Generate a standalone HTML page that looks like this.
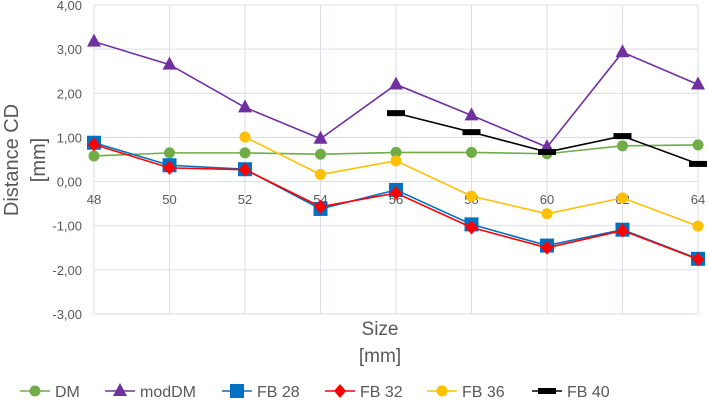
<!DOCTYPE html>
<html><head><meta charset="utf-8"><style>
body{margin:0;background:#fff;font-family:"Liberation Sans",sans-serif}
svg text{font-family:"Liberation Sans",sans-serif}
</style></head><body>
<svg width="708" height="414" id="c"></svg>
<script>
const categories=[48,50,52,54,56,58,60,62,64];
const yTicks=[4,3,2,1,0,-1,-2,-3];
const dm=[0.58,0.65,0.65,0.62,0.66,0.66,0.63,0.81,0.83];
const modDm=[3.17,2.65,1.68,0.97,2.20,1.50,0.78,2.93,2.20];
const fb28=[0.88,0.37,0.28,-0.62,-0.19,-0.97,-1.45,-1.09,-1.75];
const fb32=[0.84,0.31,0.27,-0.57,-0.26,-1.04,-1.50,-1.11,-1.76];
const fb36=[null,null,1.01,0.16,0.47,-0.33,-0.73,-0.37,-1.01];
const fb40=[null,null,null,null,1.55,1.12,0.67,1.03,0.40];
const seriesNames=["DM","modDM","FB 28","FB 32","FB 36","FB 40"];
const NS="http://www.w3.org/2000/svg";
const svg=document.getElementById('c');
const x=i=>94+i*(698-94)/(categories.length-1);
const y=v=>5+(4-v)*(314-5)/7;
function mk(t,a,p){const e=document.createElementNS(NS,t);for(const k in a)e.setAttribute(k,a[k]);(p||svg).appendChild(e);return e;}
const grid=mk('g',{});


yTicks.forEach(v=>{mk('line',{x1:94,x2:698,y1:y(v),y2:y(v),stroke:'#d9dde6','stroke-width':1},grid);
const t=mk('text',{x:82,y:y(v)+5,'text-anchor':'end','font-size':13,fill:'#595959'});t.textContent=v.toFixed(2).replace('.',',');

});
categories.forEach((c,i)=>{mk('line',{x1:x(i),x2:x(i),y1:5,y2:314,stroke:'#d9dde6','stroke-width':1},grid);
const t=mk('text',{x:x(i),y:204,'text-anchor':'middle','font-size':13,fill:'#595959'});t.textContent=c;

});
function marker(g,type,cx,cy,col){
 if(type=='circle')mk('circle',{cx,cy,r:5.5,fill:col},g);
 else if(type=='tri')mk('polygon',{points:`${cx},${cy-8} ${cx-7},${cy+5} ${cx+7},${cy+5}`,fill:col},g);
 else if(type=='sq')mk('rect',{x:cx-7,y:cy-7,width:14,height:14,fill:col},g);
 else if(type=='dia')mk('polygon',{points:`${cx},${cy-7} ${cx+6},${cy} ${cx},${cy+7} ${cx-6},${cy}`,fill:col},g);
 else if(type=='dash')mk('rect',{x:cx-9,y:cy-3,width:18,height:6,fill:col},g);
}
const defs=[[dm,'#70ad47','circle','series-dm'],[modDm,'#7030a0','tri','series-moddm'],[fb28,'#0070c0','sq','series-fb28'],[fb32,'#ff0000','dia','series-fb32'],[fb36,'#ffc000','circle','series-fb36'],[fb40,'#000000','dash','series-fb40']];
defs.forEach(([d,col,m,n])=>{const g=mk('g',{});


const pts=d.map((v,i)=>v==null?null:[x(i),y(v)]).filter(p=>p);
mk('polyline',{points:pts.map(p=>p.join(',')).join(' '),fill:'none',stroke:col,'stroke-width':1.6},g);
pts.forEach(p=>marker(g,m,p[0],p[1],col));});
const yt=mk('text',{'text-anchor':'middle','font-size':20,fill:'#595959'});


mk('tspan',{x:0,y:0,transform:''},yt).textContent='Distance CD';
yt.setAttribute('transform','translate(18,160) rotate(-90)');
const yt2=mk('text',{'text-anchor':'middle','font-size':20,fill:'#595959',transform:'translate(45,160) rotate(-90)'});


yt2.textContent='[mm]';
const xt=mk('text',{'text-anchor':'middle','font-size':19,fill:'#595959'});


mk('tspan',{x:380,y:335},xt).textContent='Size';
mk('tspan',{x:380,y:362},xt).textContent='[mm]';
const lx=[20,105,222,325,427,532];
defs.forEach((s,i)=>{const g=mk('g',{});


mk('line',{x1:lx[i],x2:lx[i]+30,y1:391,y2:391,stroke:s[1],'stroke-width':1.6},g);
marker(g,s[2],lx[i]+15,391,s[1]);
const t=mk('text',{x:lx[i]+35,y:397,'font-size':16,fill:'#595959'},g);t.textContent=seriesNames[i];});
</script>
</body></html>
